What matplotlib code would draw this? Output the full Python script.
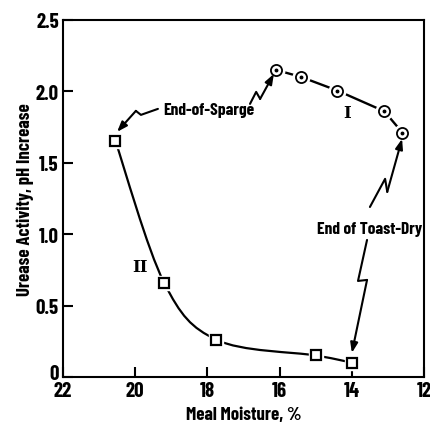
import matplotlib
matplotlib.use("Agg")
import matplotlib.pyplot as plt
from matplotlib.path import Path
from matplotlib.patches import PathPatch
from matplotlib.transforms import ScaledTranslation
import numpy as np

# curve I (circles) and curve II (squares)
moist_1 = [16.1, 15.4, 14.4, 13.1, 12.6]
urease_1 = [2.15, 2.10, 2.005, 1.86, 1.71]
moist_2 = [20.55, 19.2, 17.75, 15.0, 14.0]
urease_2 = [1.655, 0.66, 0.26, 0.15, 0.10]

xticks = [22, 20, 18, 16, 14, 12]
xtick_labels = ["22", "20", "18", "16", "14", "12"]
yticks = [0, 0.5, 1.0, 1.5, 2.0, 2.5]
ytick_labels = ["0", "0.5", "1.0", "1.5", "2.0", "2.5"]

plt.rcParams['font.family'] = ['Barlow Condensed', 'Archivo Narrow', 'DejaVu Sans']
plt.rcParams['font.weight'] = 'bold'

fig = plt.figure(figsize=(4.31, 4.27), dpi=100)
ax = fig.add_axes([0.146, 0.115, 0.838, 0.836])
ax.set_xlim(22, 12)
ax.set_ylim(0, 2.5)

for s in ax.spines.values():
    s.set_linewidth(1.5)
ax.set_xticks(xticks)
ax.set_xticklabels(xtick_labels, fontsize=15, fontweight='bold')
ax.set_yticks(yticks)
ax.set_yticklabels(ytick_labels, fontsize=15, fontweight='bold')
ax.tick_params(direction='in', length=7, width=1.5, pad=3)
ax.set_xlabel("Meal Moisture, %", fontsize=13.5, fontweight='bold', labelpad=4)
ax.set_ylabel("Urease Activity, pH Increase", fontsize=13.5, fontweight='bold', labelpad=1)

# lift the "0" label a bit so it clears "22"
lab0 = ax.get_yticklabels()[0]
lab0.set_transform(lab0.get_transform() + ScaledTranslation(0, 4 / 72, fig.dpi_scale_trans))


def smooth_path(xs, ys):
    # Catmull-Rom turned into bezier segments, drawn by matplotlib
    pts = np.column_stack([xs, ys])
    n = len(pts)
    verts = [pts[0]]
    codes = [Path.MOVETO]
    for i in range(n - 1):
        p0 = pts[max(i - 1, 0)]
        p1 = pts[i]
        p2 = pts[i + 1]
        p3 = pts[min(i + 2, n - 1)]
        c1 = p1 + (p2 - p0) / 6.0
        c2 = p2 - (p3 - p1) / 6.0
        verts += [c1, c2, p2]
        codes += [Path.CURVE4] * 3
    return Path(verts, codes)


ax.add_patch(PathPatch(smooth_path(moist_2, urease_2), fill=False, lw=1.6, ec='black', zorder=2))
ax.plot(moist_1, urease_1, color='black', lw=1.7, zorder=2)

# white halo so lines stop short of markers
ax.plot(moist_2, urease_2, 's', ms=10, color='white', zorder=3)
ax.plot(moist_1, urease_1, 'o', ms=12, color='white', zorder=3)
ax.plot(moist_2, urease_2, 's', ms=6.5, mfc='white', mec='black', mew=1.6, zorder=4)
ax.plot(moist_1, urease_1, 'o', ms=8, mfc='white', mec='black', mew=1.3, zorder=4)
ax.plot(moist_1, urease_1, 'o', ms=1.8, color='black', zorder=5)

# text labels
ax.text(17.95, 1.87, "End-of-Sparge", fontsize=12.5, fontweight='bold', ha='center', va='center')
ax.text(13.5, 1.04, "End of Toast-Dry", fontsize=12.5, fontweight='bold', ha='center', va='center')
ax.text(14.13, 1.85, "I", fontsize=12, fontweight='bold', family='DejaVu Serif', ha='center', va='center')
ax.text(19.87, 0.77, "II", fontsize=12, fontweight='bold', family='DejaVu Serif', ha='center', va='center')

# zigzag arrows
arrows = [
    [(19.37, 1.877), (19.84, 1.835), (19.98, 1.863), (20.50, 1.716)],
    [(16.82, 1.912), (16.65, 1.996), (16.54, 1.947), (16.16, 2.122)],
    [(13.50, 1.190), (13.08, 1.387), (13.02, 1.296), (12.61, 1.667)],
    [(13.58, 0.959), (13.83, 0.672), (13.58, 0.679), (14.00, 0.168)],
]
for pts in arrows:
    xs = [p[0] for p in pts[:-1]]
    ys = [p[1] for p in pts[:-1]]
    ax.plot(xs, ys, color='black', lw=1.5, solid_capstyle='round', zorder=2)
    ax.annotate("", xy=pts[-1], xytext=pts[-2],
                arrowprops=dict(arrowstyle='-|>,head_length=0.6,head_width=0.22',
                                color='black', lw=1.5, shrinkA=0, shrinkB=0))

fig.savefig("out.png", dpi=100)
